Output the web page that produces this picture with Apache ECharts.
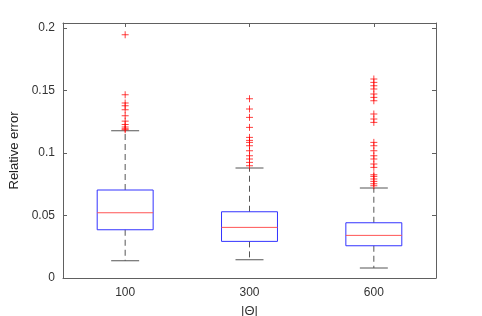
<!DOCTYPE html>
<html><head><meta charset="utf-8">
<script src="https://cdn.jsdelivr.net/npm/echarts@6/dist/echarts.min.js"></script>
<style>html,body{margin:0;padding:0;background:#fff}#c{width:482px;height:316px}</style>
</head><body><div id="c"></div>
<script>
var categories = ['100', '300', '600'];
var lowerWhisker = [0.0138, 0.0146, 0.0080];
var q1 = [0.0386, 0.0293, 0.0258];
var median = [0.0522, 0.0405, 0.0341];
var q3 = [0.0704, 0.0530, 0.0442];
var upperWhisker = [0.1178, 0.0880, 0.0720];
var outliers100 = [0.1946, 0.1466, 0.1400, 0.1378, 0.1346, 0.1298, 0.1255, 0.1228, 0.1208, 0.1194, 0.1186];
var outliers300 = [0.1434, 0.1352, 0.1285, 0.1205, 0.1125, 0.1101, 0.1085, 0.1058, 0.1018, 0.0978, 0.0952, 0.0925, 0.0898];
var outliers600 = [0.1592, 0.1565, 0.1538, 0.1512, 0.1472, 0.1445, 0.1418, 0.1312, 0.1272, 0.1245, 0.1085, 0.1058, 0.1018, 0.0978, 0.0952, 0.0912, 0.0885, 0.0826, 0.0813, 0.0792, 0.0773, 0.0754, 0.0738];
var yTicks = [0, 0.05, 0.1, 0.15, 0.2];
var yMax = 0.204;

var boxData = categories.map(function (c, i) {
  return [i, lowerWhisker[i], q1[i], median[i], q3[i], upperWhisker[i]];
});
var outData = [];
[outliers100, outliers300, outliers600].forEach(function (arr, i) {
  arr.forEach(function (v) { outData.push([i, v]); });
});

var axisColor = '#606060';
var font = 'Liberation Sans, Arial, sans-serif';

function renderBox(params, api) {
  var x = api.value(0);
  var w = api.size([1, 0])[0];
  var bw = w * 0.45, cw = w * 0.225;
  var pLo = api.coord([x, api.value(1)]);
  var pQ1 = api.coord([x, api.value(2)]);
  var pMd = api.coord([x, api.value(3)]);
  var pQ3 = api.coord([x, api.value(4)]);
  var pHi = api.coord([x, api.value(5)]);
  var cx = pLo[0];
  var dash = { stroke: '#555', lineWidth: 1, lineDash: [6, 4] };
  var solid = { stroke: '#555', lineWidth: 1 };
  return {
    type: 'group',
    children: [
      { type: 'line', shape: { x1: cx, y1: pQ1[1], x2: cx, y2: pLo[1] }, style: dash },
      { type: 'line', shape: { x1: cx, y1: pQ3[1], x2: cx, y2: pHi[1] }, style: dash },
      { type: 'line', shape: { x1: cx - cw / 2, y1: pLo[1], x2: cx + cw / 2, y2: pLo[1] }, style: solid },
      { type: 'line', shape: { x1: cx - cw / 2, y1: pHi[1], x2: cx + cw / 2, y2: pHi[1] }, style: solid },
      { type: 'rect', shape: { x: cx - bw / 2, y: pQ3[1], width: bw, height: pQ1[1] - pQ3[1] },
        style: { fill: null, stroke: '#3333ff', lineWidth: 1 } },
      { type: 'line', shape: { x1: cx - bw / 2, y1: pMd[1], x2: cx + bw / 2, y2: pMd[1] },
        style: { stroke: '#ff5555', lineWidth: 1 } }
    ]
  };
}

function renderPlus(params, api) {
  var p = api.coord([api.value(0), api.value(1)]);
  var s = 3.5;
  var st = { stroke: 'rgba(255,0,0,0.75)', lineWidth: 1 };
  return {
    type: 'group',
    children: [
      { type: 'line', shape: { x1: p[0] - s, y1: p[1], x2: p[0] + s, y2: p[1] }, style: st },
      { type: 'line', shape: { x1: p[0], y1: p[1] - s, x2: p[0], y2: p[1] + s }, style: st }
    ]
  };
}

var chart = echarts.init(document.getElementById('c'), null, { renderer: 'canvas' });
chart.setOption({
  animation: false,
  grid: { left: 63, right: 46, top: 23, bottom: 38, containLabel: false, outerBoundsMode: 'none' },
  xAxis: [{
    type: 'category', data: categories, boundaryGap: true, position: 'bottom',
    axisLine: { onZero: false, lineStyle: { color: axisColor } },
    axisTick: { inside: true, alignWithLabel: true, length: 4, lineStyle: { color: axisColor } },
    axisLabel: { color: '#333', fontSize: 12, fontFamily: font, margin: 9 },
    name: '|Θ|', nameLocation: 'middle', nameGap: 27,
    nameTextStyle: { color: '#333', fontSize: 13, fontFamily: font },
    splitLine: { show: false }
  }, {
    type: 'category', data: categories, boundaryGap: true, position: 'top',
    axisLine: { show: true, onZero: false, lineStyle: { color: axisColor } },
    axisTick: { show: true, inside: true, alignWithLabel: true, length: 4, lineStyle: { color: axisColor } },
    axisLabel: { show: false }, splitLine: { show: false }
  }],
  yAxis: [{
    type: 'value', min: 0, max: yMax, interval: 0.05, position: 'left',
    axisLine: { show: true, onZero: false, lineStyle: { color: axisColor } },
    axisTick: { show: true, inside: true, length: 4, lineStyle: { color: axisColor } },
    axisLabel: {
      color: '#333', fontSize: 12, fontFamily: font, margin: 8,
      formatter: function (v) {
        for (var i = 0; i < yTicks.length; i++) if (Math.abs(v - yTicks[i]) < 1e-9) return String(yTicks[i]);
        return '';
      }
    },
    name: 'Relative error', nameLocation: 'middle', nameGap: 42,
    nameTextStyle: { color: '#222', fontSize: 13, fontFamily: font },
    splitLine: { show: false }
  }, {
    type: 'value', min: 0, max: yMax, interval: 0.05, position: 'right',
    axisLine: { show: true, onZero: false, lineStyle: { color: axisColor } },
    axisTick: { show: true, inside: true, length: 4, lineStyle: { color: axisColor } },
    axisLabel: { show: false }, splitLine: { show: false }
  }],
  series: [{
    type: 'custom', renderItem: renderBox, data: boxData,
    encode: { x: 0, y: [1, 2, 3, 4, 5] }, z: 2
  }, {
    type: 'custom', renderItem: renderPlus, data: outData,
    encode: { x: 0, y: 1 }, z: 3
  }]
});
</script></body></html>
